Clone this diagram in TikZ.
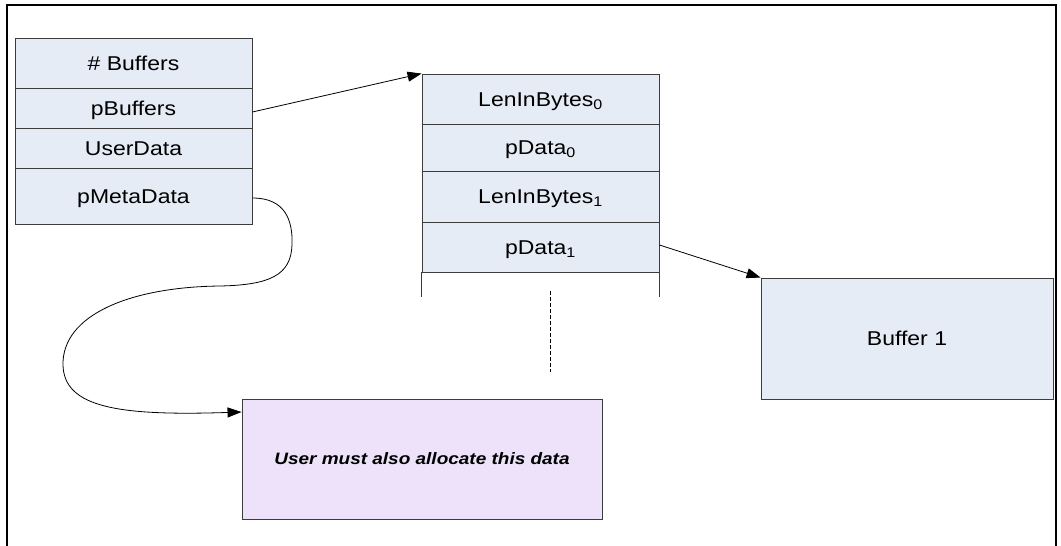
\documentclass[tikz,border=0pt]{standalone}
\usepackage{fontspec}
\newfontfamily\lab{Liberation Sans}[FakeStretch=1.15]
\usetikzlibrary{arrows.meta}
\definecolor{cellblue}{RGB}{230,236,246}
\definecolor{notepurple}{RGB}{237,226,249}
\definecolor{edge}{RGB}{60,60,60}
\tikzset{
  cell/.style={draw=edge, line width=0.9pt, fill=cellblue, inner sep=0pt,
    minimum width=237pt, text height=14.5pt, text depth=0pt,
    font=\lab\fontsize{20}{24}\selectfont},
  bigbox/.style={draw=edge, line width=0.9pt, inner sep=0pt,
    font=\lab\fontsize{20}{24}\selectfont},
  link/.style={line width=0.8pt, -{Triangle[length=14pt,width=10pt]}},
  frameline/.style={line width=2.2pt, line cap=rect}
}
\begin{document}
\begin{tikzpicture}[x=1pt,y=-1pt]
  \useasboundingbox (0,0) rectangle (1061,546);
  % outer frame (open at the bottom)
  \draw[frameline] (7,560) -- (7,5) -- (1056,5) -- (1056,560);

  % buffer list header
  \node[cell, minimum height=50pt] (nb) at (133.5,63)  {\# Buffers};
  \node[cell, minimum height=40pt] (pb) at (133.5,108) {pBuffers};
  \node[cell, minimum height=40pt] (ud) at (133.5,148) {UserData};
  \node[cell, minimum height=56pt] (pm) at (133.5,196) {pMetaData};

  % array of buffer descriptors
  \node[cell, minimum height=50pt] (l0) at (540.5,99)   {LenInBytes\textsubscript{0}};
  \node[cell, minimum height=47pt] (d0) at (540.5,147.5) {pData\textsubscript{0}};
  \node[cell, minimum height=51pt] (l1) at (540.5,196.5) {LenInBytes\textsubscript{1}};
  \node[cell, minimum height=50pt] (d1) at (540.5,247)   {pData\textsubscript{1}};
  \draw[draw=edge, line width=0.9pt] (d1.south west) -- ++(0,25);
  \draw[draw=edge, line width=0.9pt] (d1.south east) -- ++(0,25);
  \coordinate (dtop) at (550,291);
  \coordinate (dbot) at (550,372);
  \draw[line width=0.9pt, dash pattern=on 4pt off 2pt] (dtop) -- (dbot);

  % data buffer
  \node[bigbox, fill=cellblue, minimum width=292pt, minimum height=121pt]
    (buf) at (907,338.5) {Buffer 1};

  % metadata block
  \node[bigbox, fill=notepurple, minimum width=360pt, minimum height=120pt,
        font=\lab\fontsize{16.5}{20}\selectfont\bfseries\itshape]
    (meta) at (422,459) {User must also allocate this data};

  % pointers
  \draw[link] ([yshift=-4pt]pb.east) -- (l0.north west);
  \draw[link] ([yshift=2pt]d1.east) -- (buf.north west);
  \draw[link] ([yshift=-2pt]pm.east)
      .. controls (285,198) and (293,220) .. (292,245)
      .. controls (291,275) and (270,285) .. (220,286)
      .. controls (130,287) and (62,315) .. (63,365)
      .. controls (64,408) and (120,416) .. ([yshift=47pt]meta.west);
\end{tikzpicture}
\end{document}
